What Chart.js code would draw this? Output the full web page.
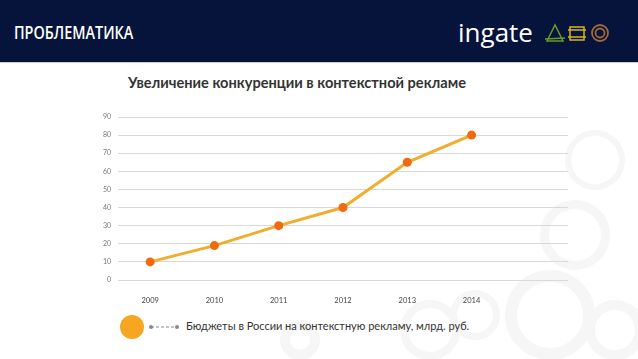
<!DOCTYPE html>
<html><head><meta charset="utf-8">
<script src="https://cdn.jsdelivr.net/npm/chart.js@4"></script>
<style>
html,body{margin:0;padding:0;width:638px;height:359px;overflow:hidden;background:#fff;font-family:Lato,'Open Sans',sans-serif;}
#hdr{position:absolute;left:0;top:0;width:638px;height:62px;background:#06133a;border-bottom:1px solid #c9ccd6;}
#htitle{position:absolute;left:14px;top:20px;color:#fff;font-family:'Open Sans',sans-serif;font-weight:600;font-size:18px;transform:scaleX(0.8);transform-origin:left center;white-space:nowrap;}
#ingate{position:absolute;left:458px;top:14px;color:#fff;font-family:'Open Sans',sans-serif;font-weight:400;font-size:26px;}
#logo{position:absolute;left:545px;top:22px;}
.ring{position:absolute;border-radius:50%;border-style:solid;border-color:#f6f6f6;box-sizing:border-box;}
#title{position:absolute;left:0;width:594px;top:74px;text-align:center;font-weight:bold;font-size:14.6px;color:#333;}
#wrap{position:absolute;left:80px;top:100px;width:500px;height:210px;}
#leg{position:absolute;left:120px;top:315px;height:24px;}
#legdot{position:absolute;left:0;top:0;width:24px;height:24px;border-radius:50%;background:#f5a623;}
#legline{position:absolute;left:28px;top:6px;}
#legtext{position:absolute;left:66px;top:4px;white-space:nowrap;font-size:11px;color:#333;font-family:Lato,'Open Sans',sans-serif;}
</style></head>
<body>
<div class="ring" style="left:540px;top:200px;width:70px;height:70px;border-width:9px;"></div>
<div class="ring" style="left:505px;top:270px;width:90px;height:90px;border-width:12px;"></div>
<div class="ring" style="left:450px;top:290px;width:50px;height:50px;border-width:7px;"></div>
<div class="ring" style="left:565px;top:130px;width:60px;height:60px;border-width:6px;"></div>
<div class="ring" style="left:400px;top:300px;width:60px;height:60px;border-width:8px;"></div>
<div class="ring" style="left:585px;top:300px;width:60px;height:60px;border-width:10px;"></div>
<div class="ring" style="left:280px;top:320px;width:40px;height:40px;border-width:10px;"></div>
<div id="hdr">
  <div id="htitle">ПРОБЛЕМАТИКА</div>
  <div id="ingate">ingate</div>
  <svg id="logo" width="70" height="22" viewBox="0 0 70 22">
    <g stroke="#6a9a2a" stroke-width="1.5" fill="none"><path d="M2 19 L10 3 L18 19 Z"/><path d="M0 17 L20 16"/></g>
    <g stroke="#d8b51a" stroke-width="1.5" fill="none"><rect x="25" y="5" width="14" height="13"/><path d="M23 8 L41 8 M23 15 L41 15"/></g>
    <g stroke="#a0673a" stroke-width="1.8" fill="none"><circle cx="55" cy="11" r="8"/><circle cx="55" cy="11" r="4.5"/></g>
  </svg>
</div>
<div id="title">Увеличение конкуренции в контекстной рекламе</div>
<div id="wrap"><canvas id="c" width="500" height="210"></canvas></div>
<div id="leg">
  <div id="legdot"></div>
  <svg id="legline" width="32" height="12"><line x1="3" y1="6" x2="29" y2="6" stroke="#888" stroke-width="1" stroke-dasharray="3,2"/><circle cx="3" cy="6" r="2" fill="#888"/><circle cx="29" cy="6" r="2" fill="#888"/></svg>
  <div id="legtext">Бюджеты в России на контекстную рекламу, млрд. руб.</div>
</div>
<script>
const years = ['2009','2010','2011','2012','2013','2014'];
const budgets = [10, 19, 30, 40, 65, 80];
const yTicks = [0,10,20,30,40,50,60,70,80,90];

new Chart(document.getElementById('c'), {
  type: 'line',
  data: {
    labels: years.concat(['']),
    datasets: [{
      label: 'Бюджеты в России на контекстную рекламу, млрд. руб.',
      data: budgets,
      borderColor: '#f0ad2e',
      borderWidth: 3,
      pointBackgroundColor: '#f06a0f',
      pointBorderWidth: 0,
      pointRadius: 4.5,
      tension: 0
    }]
  },
  options: {
    responsive: false,
    animation: false,
    events: [],
    layout: { padding: { top: 17, right: 12, left: 0, bottom: 0 } },
    plugins: { legend: { display: false }, tooltip: { enabled: false } },
    scales: {
      x: {
        offset: true,
        grid: { display: false },
        border: { display: false },
        ticks: { color: '#444', font: { size: 7.5, family: 'Lato' }, padding: 8, maxRotation: 0 },
        afterFit: s => { s.height = 30; }
      },
      y: {
        min: 0, max: 90,
        afterBuildTicks: s => { s.ticks = yTicks.map(v => ({ value: v })); },
        grid: { color: '#d9d9d9', drawTicks: false, lineWidth: 1 },
        border: { display: false },
        ticks: { color: '#777', font: { size: 7, family: 'Lato' }, padding: 7 },
        afterFit: s => { s.width = 38; }
      }
    }
  }
});
</script>
</body></html>
